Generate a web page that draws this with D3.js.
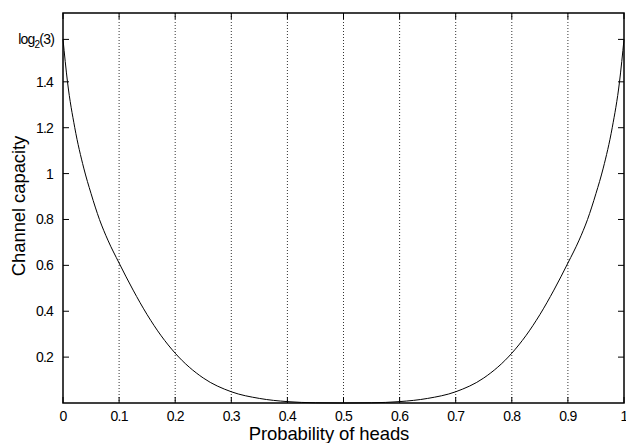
<!DOCTYPE html>
<html>
<head>
<meta charset="utf-8">
<script src="https://cdn.jsdelivr.net/npm/d3@7"></script>
<style>
  body { margin: 0; background: #fff; }
  text { font-family: "Liberation Sans", Arial, sans-serif; fill: #000; }
</style>
</head>
<body>
<div id="chart"></div>
<script>
// Values (probability of heads -> capacity).
const probHeads = [0, 0.008, 0.021, 0.037, 0.05, 0.065, 0.08, 0.1, 0.125, 0.15, 0.175, 0.2, 0.25, 0.3, 0.35, 0.4, 0.45, 0.5,
                   0.55, 0.6, 0.65, 0.7, 0.75, 0.8, 0.825, 0.85, 0.875, 0.9, 0.92, 0.935, 0.95, 0.963, 0.979, 0.992, 1];
const capacity  = [1.585, 1.4, 1.2, 1.024, 0.913, 0.8, 0.71, 0.61, 0.492, 0.385, 0.293, 0.217, 0.109, 0.049, 0.02, 0.006, 0.001, 0,
                   0.001, 0.006, 0.02, 0.049, 0.109, 0.217, 0.293, 0.385, 0.492, 0.61, 0.71, 0.8, 0.913, 1.024, 1.2, 1.4, 1.585];
const xTicks = [0, 0.1, 0.2, 0.3, 0.4, 0.5, 0.6, 0.7, 0.8, 0.9, 1];
const xTickLabels = ['0', '0.1', '0.2', '0.3', '0.4', '0.5', '0.6', '0.7', '0.8', '0.9', '1'];
const yTicks = [0.2, 0.4, 0.6, 0.8, 1, 1.2, 1.4];
const yTickLabels = ['0.2', '0.4', '0.6', '0.8', '1', '1.2', '1.4'];
const log2of3 = Math.log2(3);

const width = 626, height = 443;
const pLeft = 63, pRight = 624, pTop = 13, pBottom = 403;
const tick = 6;

const svg = d3.select('#chart').append('svg')
  .attr('width', width)
  .attr('height', height);

const x = d3.scaleLinear().domain([0, 1]).range([pLeft, pRight]);
const y = d3.scaleLinear().domain([0, 1.7]).range([pBottom, pTop]);

// dotted vertical grid
svg.append('g')
  .selectAll('line')
  .data(xTicks.slice(1, -1))
  .enter()
  .append('line')
  .attr('x1', d => x(d)).attr('x2', d => x(d))
  .attr('y1', pTop).attr('y2', pBottom)
  .attr('stroke', '#333')
  .attr('stroke-width', 1)
  .attr('stroke-dasharray', '1,2');

// ticks, mirrored on all four sides, pointing inward
const tk = svg.append('g').attr('stroke', '#000').attr('stroke-width', 1);
xTicks.forEach(d => {
  tk.append('line').attr('x1', x(d)).attr('x2', x(d)).attr('y1', pBottom).attr('y2', pBottom - tick);
  tk.append('line').attr('x1', x(d)).attr('x2', x(d)).attr('y1', pTop).attr('y2', pTop + tick);
});
yTicks.concat([log2of3]).forEach(d => {
  tk.append('line').attr('x1', pLeft).attr('x2', pLeft + tick).attr('y1', y(d)).attr('y2', y(d));
  tk.append('line').attr('x1', pRight).attr('x2', pRight - tick).attr('y1', y(d)).attr('y2', y(d));
});

// the curve
const line = d3.line()
  .x((d, i) => x(probHeads[i]))
  .y(d => y(d))
  .curve(d3.curveMonotoneX);

svg.append('path')
  .datum(capacity)
  .attr('d', line)
  .attr('fill', 'none')
  .attr('stroke', '#000')
  .attr('stroke-width', 1);

// frame
svg.append('rect')
  .attr('x', pLeft).attr('y', pTop)
  .attr('width', pRight - pLeft).attr('height', pBottom - pTop)
  .attr('fill', 'none')
  .attr('stroke', '#000')
  .attr('stroke-width', 1.5);

// tick labels
svg.append('g')
  .selectAll('text')
  .data(xTicks)
  .enter()
  .append('text')
  .attr('x', d => x(d))
  .attr('y', 421)
  .attr('text-anchor', 'middle')
  .style('font-size', '14px')
  .style('letter-spacing', '-0.8px')
  .text((d, i) => xTickLabels[i]);

svg.append('g')
  .selectAll('text')
  .data(yTicks)
  .enter()
  .append('text')
  .attr('x', pLeft - 10)
  .attr('y', d => y(d) + 5)
  .attr('text-anchor', 'end')
  .style('font-size', '14px')
  .style('letter-spacing', '-0.8px')
  .text((d, i) => yTickLabels[i]);

const lg = svg.append('text')
  .attr('x', pLeft - 9)
  .attr('y', y(log2of3) + 5)
  .attr('text-anchor', 'end')
  .style('font-size', '14px')
  .style('letter-spacing', '-0.8px');
lg.append('tspan').text('log');
lg.append('tspan').attr('dy', 4).style('font-size', '10px').text('2');
lg.append('tspan').attr('dy', -4).text('(3)');

// axis titles
svg.append('text')
  .attr('x', 329)
  .attr('y', 440)
  .attr('text-anchor', 'middle')
  .style('font-size', '18.5px')
  .style('letter-spacing', '-0.1px')
  .text('Probability of heads');

svg.append('text')
  .attr('transform', `translate(25,206) rotate(-90)`)
  .attr('text-anchor', 'middle')
  .style('font-size', '18.5px')
  .style('letter-spacing', '-0.1px')
  .text('Channel capacity');
</script>
</body>
</html>
